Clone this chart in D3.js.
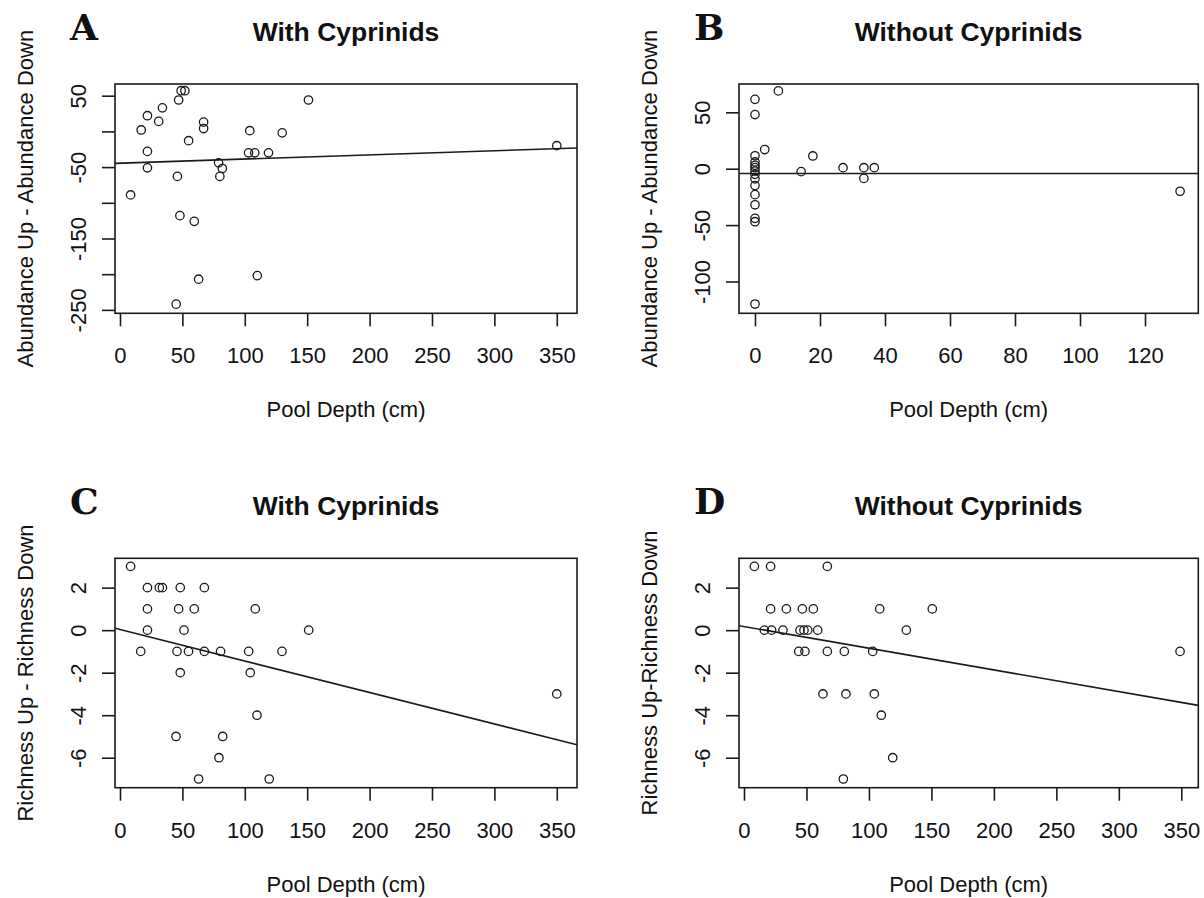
<!DOCTYPE html>
<html>
<head>
<meta charset="utf-8">
<script src="https://cdn.jsdelivr.net/npm/d3@7"></script>
<style>
  body { margin: 0; background: #fff; }
  text { font-family: "Liberation Sans", Arial, sans-serif; fill: #111; }
  .letter { font-family: "DejaVu Serif", "Liberation Serif", serif; font-weight: bold; }
</style>
</head>
<body>
<div class="chartContainer"></div>
<script>
// ---- data ----
// A: abundance change, pools with cyprinids
const depthA = [49, 52, 47, 34, 22, 31, 17, 22, 22, 8.5, 46, 48, 59.5, 63, 45, 55, 67, 67, 79, 82, 80, 104, 103, 108, 119, 130, 110, 151, 350];
const abundA = [57, 57, 44, 33, 22, 14, 2, -28, -51, -89, -63, -118, -126, -207, -242, -13, 13, 4, -44, -52, -63, 1, -30, -30, -30, -2, -202, 44, -20];
const fitA = [-44.5, 0.058]; // intercept, slope

// B: abundance change, pools without cyprinids
const depthB = [7.2, 0, 0, 3, 0, 0, 0, 0, 0, 0, 0, 0, 0, 0, 0, 0, 0, 14.2, 17.8, 27.1, 33.5, 33.5, 36.7, 130.8];
const abundB = [69, 61.5, 48, 17, 11.5, 6, 3, 1, -2, -5, -9, -15, -23, -32, -44, -47, -120, -2.6, 11.3, 0.9, 0.9, -8.6, 0.9, -20];
const fitB = [-4.2, 0];

// C: richness change, with cyprinids
const depthC = [8.5, 22, 31.5, 34, 48.3, 67.6, 22, 47, 59.5, 108.4, 22, 51.3, 151.2, 16.6, 45.7, 54.9, 67.6, 80.6, 103.1, 129.8, 48.3, 104.4, 109.8, 44.9, 82.3, 79.3, 63, 119.6, 350];
const richC = [3, 2, 2, 2, 2, 2, 1, 1, 1, 1, 0, 0, 0, -1, -1, -1, -1, -1, -1, -1, -2, -2, -4, -5, -5, -6, -7, -7, -3];
const fitC = [0.03, -0.0148];

// D: richness change, without cyprinids
const depthD = [8.3, 21.3, 66.7, 21.3, 33.9, 46.7, 55.5, 108.6, 150.7, 16.3, 22.1, 31.2, 44.8, 48, 51, 59, 129.9, 43.8, 48.8, 66.7, 80.3, 103, 349, 63.2, 81.6, 104.3, 109.9, 119, 79.5];
const richD = [3, 3, 3, 1, 1, 1, 1, 1, 1, 0, 0, 0, 0, 0, 0, 0, 0, -1, -1, -1, -1, -1, -1, -3, -3, -3, -4, -6, -7];
const fitD = [0.17, -0.0102];

// ticks
const depthTicks = [0, 50, 100, 150, 200, 250, 300, 350];
const depthTicksB = [0, 20, 40, 60, 80, 100, 120];
const abundTicksA = [-250, -200, -150, -100, -50, 0, 50];
const abundLabelsA = [-250, -150, -50, 50]; // R drops the crowded ones
const abundTicksB = [-100, -50, 0, 50];
const richTicks = [-6, -4, -2, 0, 2];

const panels = [
  { letter: "A", title: "With Cyprinids", ylab: "Abundance Up - Abundance Down",
    xs: depthA, ys: abundA, fit: fitA, xTicks: depthTicks, yTicks: abundTicksA, yLabels: abundLabelsA,
    left: 115, right: 577, top: 84, bottom: 313.3, xDomain: [-4.0, 366.2], yDomain: [-254.8, 66.4] },
  { letter: "B", title: "Without Cyprinids", ylab: "Abundance Up - Abundance Down",
    xs: depthB, ys: abundB, fit: fitB, xTicks: depthTicksB, yTicks: abundTicksB, yLabels: abundTicksB,
    left: 739, right: 1198.3, top: 84, bottom: 313.3, xDomain: [-4.92, 136.4], yDomain: [-128.2, 75.1] },
  { letter: "C", title: "With Cyprinids", ylab: "Richness Up - Richness Down",
    xs: depthC, ys: richC, fit: fitC, xTicks: depthTicks, yTicks: richTicks, yLabels: richTicks,
    left: 115, right: 577, top: 558.3, bottom: 787.7, xDomain: [-4.0, 366.2], yDomain: [-7.41, 3.38] },
  { letter: "D", title: "Without Cyprinids", ylab: "Richness Up-Richness Down",
    xs: depthD, ys: richD, fit: fitD, xTicks: depthTicks, yTicks: richTicks, yLabels: richTicks,
    left: 739, right: 1198.3, top: 558.3, bottom: 787.7, xDomain: [-4.0, 363.6], yDomain: [-7.41, 3.38] }
];

const ink = "#1a1a1a";
const fontSize = 22;

const svg = d3
  .select(".chartContainer")
  .append("svg")
  .attr("width", 1204)
  .attr("height", 898);

svg.append("rect").attr("width", 1204).attr("height", 898).attr("fill", "#fff");

function drawPanel(p, i) {
  const xScale = d3.scaleLinear().domain(p.xDomain).range([p.left, p.right]);
  const yScale = d3.scaleLinear().domain(p.yDomain).range([p.bottom, p.top]);
  const g = svg.append("g");

  // x axis (domain line hidden, the box draws it)
  const xAxis = d3
    .axisBottom(xScale)
    .tickValues(p.xTicks)
    .tickSize(13)
    .tickFormat(d => String(d));
  const gx = g
    .append("g")
    .attr("transform", "translate(" + [0, p.bottom] + ")")
    .call(xAxis);
  gx.select(".domain").remove();
  gx.selectAll("line").attr("stroke", ink).attr("stroke-width", 1.6);
  gx.selectAll("text")
    .attr("y", 50)
    .attr("dy", null)
    .attr("fill", ink)
    .style("font-size", fontSize + "px")
    .style("font-family", "'Liberation Sans', Arial, sans-serif");

  // y axis, labels parallel to the axis like R
  const yAxis = d3
    .axisLeft(yScale)
    .tickValues(p.yTicks)
    .tickSize(13)
    .tickFormat(d => (p.yLabels.includes(d) ? String(d) : ""));
  const gy = g
    .append("g")
    .attr("transform", "translate(" + [p.left, 0] + ")")
    .call(yAxis);
  gy.select(".domain").remove();
  gy.selectAll("line").attr("stroke", ink).attr("stroke-width", 1.6);
  gy.selectAll("text")
    .attr("x", null)
    .attr("dy", null)
    .attr("text-anchor", "middle")
    .attr("transform", "translate(-29,0) rotate(-90)")
    .attr("fill", ink)
    .style("font-size", fontSize + "px")
    .style("font-family", "'Liberation Sans', Arial, sans-serif");

  // regression line, clipped to the plot region
  const clipId = "clip" + i;
  svg.append("clipPath")
    .attr("id", clipId)
    .append("rect")
    .attr("x", p.left)
    .attr("y", p.top)
    .attr("width", p.right - p.left)
    .attr("height", p.bottom - p.top);

  const lineX = p.xDomain;
  g.append("path")
    .datum(lineX.map(x => [x, p.fit[0] + p.fit[1] * x]))
    .attr("clip-path", "url(#" + clipId + ")")
    .attr("fill", "none")
    .attr("stroke", ink)
    .attr("stroke-width", 1.6)
    .attr("d", d3.line().x(d => xScale(d[0])).y(d => yScale(d[1])));

  // points (pch = 1)
  g.selectAll("circle")
    .data(p.xs.map((x, j) => [x, p.ys[j]]))
    .enter()
    .append("circle")
    .attr("cx", d => xScale(d[0]))
    .attr("cy", d => yScale(d[1]))
    .attr("r", 4.2)
    .attr("fill", "none")
    .attr("stroke", ink)
    .attr("stroke-width", 1.3);

  // box
  g.append("rect")
    .attr("x", p.left)
    .attr("y", p.top)
    .attr("width", p.right - p.left)
    .attr("height", p.bottom - p.top)
    .attr("fill", "none")
    .attr("stroke", ink)
    .attr("stroke-width", 1.6);

  const cx = (p.left + p.right) / 2;
  const cy = (p.top + p.bottom) / 2;

  // title
  g.append("text")
    .attr("x", cx)
    .attr("y", p.top - 43.5)
    .attr("text-anchor", "middle")
    .style("font-size", "26.5px")
    .style("font-weight", "bold")
    .text(p.title);

  // panel letter
  g.append("text")
    .attr("class", "letter")
    .attr("x", p.left - 45)
    .attr("y", p.top - 44)
    .style("font-size", "36px")
    .text(p.letter);

  // axis labels
  g.append("text")
    .attr("x", cx)
    .attr("y", p.bottom + 104)
    .attr("text-anchor", "middle")
    .style("font-size", fontSize + "px")
    .text("Pool Depth (cm)");

  g.append("text")
    .attr("transform", "translate(" + [p.left - 82, cy] + ") rotate(-90)")
    .attr("text-anchor", "middle")
    .style("font-size", fontSize + "px")
    .text(p.ylab);
}

panels.forEach(drawPanel);
</script>
</body>
</html>
